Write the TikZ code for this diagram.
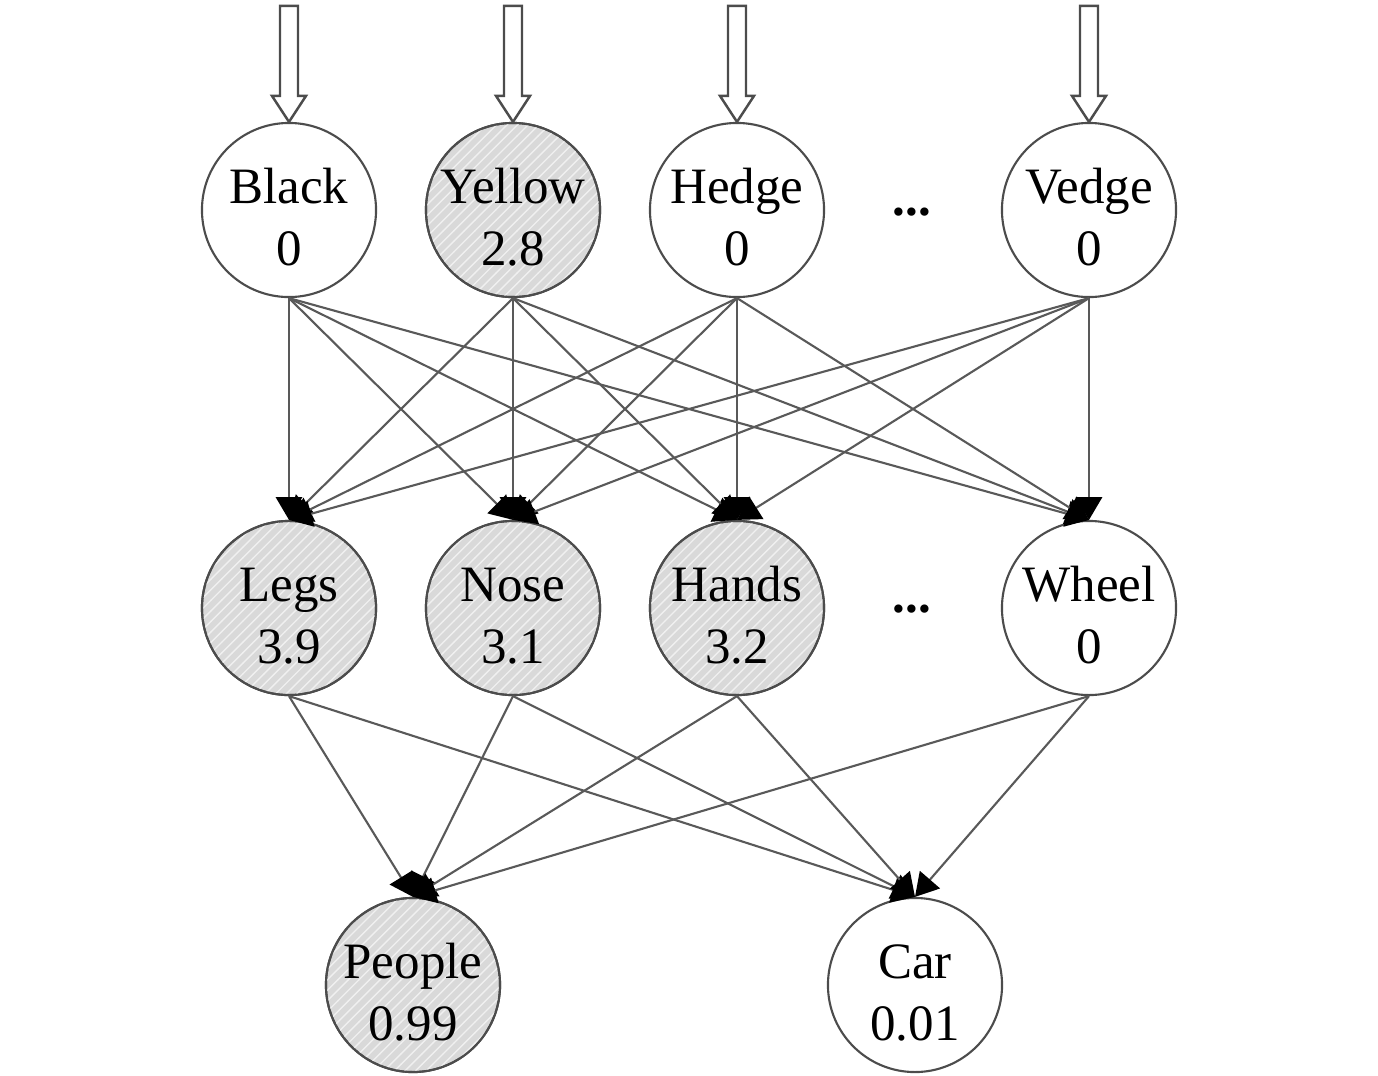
\documentclass[tikz,border=0pt]{standalone}
\usepackage{fontspec}
\setmainfont{Liberation Serif}
\usepackage{tikz}
\usetikzlibrary{arrows.meta,patterns}

\tikzset{
  unit/.style={circle, draw=gray!60!black, line width=0.6pt, fill=white,
    minimum size=1.74cm, inner sep=-4pt, align=center, text height=31.5pt,
    font=\fontsize{14.5}{17.6}\selectfont},
  active/.style={unit, fill=gray!30,
    postaction={pattern=north east lines, pattern color=gray!12},
    postaction={draw=gray!60!black}},
  link/.style={draw=gray!70!black, line width=0.6pt,
    -{Triangle[length=6.5pt,width=7.5pt,black]}},
  inarrow/.style={draw=gray!60!black, line width=0.7pt, fill=white},
  dots/.style={font=\fontsize{14.5}{17.6}\bfseries}
}

\begin{document}
\begin{tikzpicture}[x=0.01cm, y=-0.01cm]
\useasboundingbox (0,0) rectangle (1378,1075);
%input features
\node[unit]   (black)  at (289,210) {Black\\0};
\node[active] (yellow) at (513,210) {Yellow\\2.8};
\node[unit]   (hedge)  at (737,210) {Hedge\\0};
\node[unit]   (vedge)  at (1089,210) {Vedge\\0};
\node[dots] (dotsa) at (912,212) {...};
%parts
\node[active] (legs)  at (289,608) {Legs\\3.9};
\node[active] (nose)  at (513,608) {Nose\\3.1};
\node[active] (hands) at (737,608) {Hands\\3.2};
\node[unit]   (wheel) at (1089,608) {Wheel\\0};
\node[dots] (dotsb) at (912,609) {...};
%classes
\node[active] (people) at (413,985) {People\\0.99};
\node[unit]   (car)    at (915,985) {Car\\0.01};

%hollow input arrows
\foreach \n in {black,yellow,hedge,vedge}
  \draw[inarrow] (\n.north) -- ++(-17,-26) -- ++(8,0) -- ++(0,-90)
    -- ++(18,0) -- ++(0,90) -- ++(8,0) -- cycle;

%features to parts
\foreach \s in {black,yellow,hedge,vedge}
  \foreach \t in {legs,nose,hands,wheel}
    \draw[link] (\s.south) -- (\t.north);

%parts to classes
\foreach \s in {legs,nose,hands,wheel}
  \foreach \t in {people,car}
    \draw[link] (\s.south) -- (\t.north);

\end{tikzpicture}
\end{document}
